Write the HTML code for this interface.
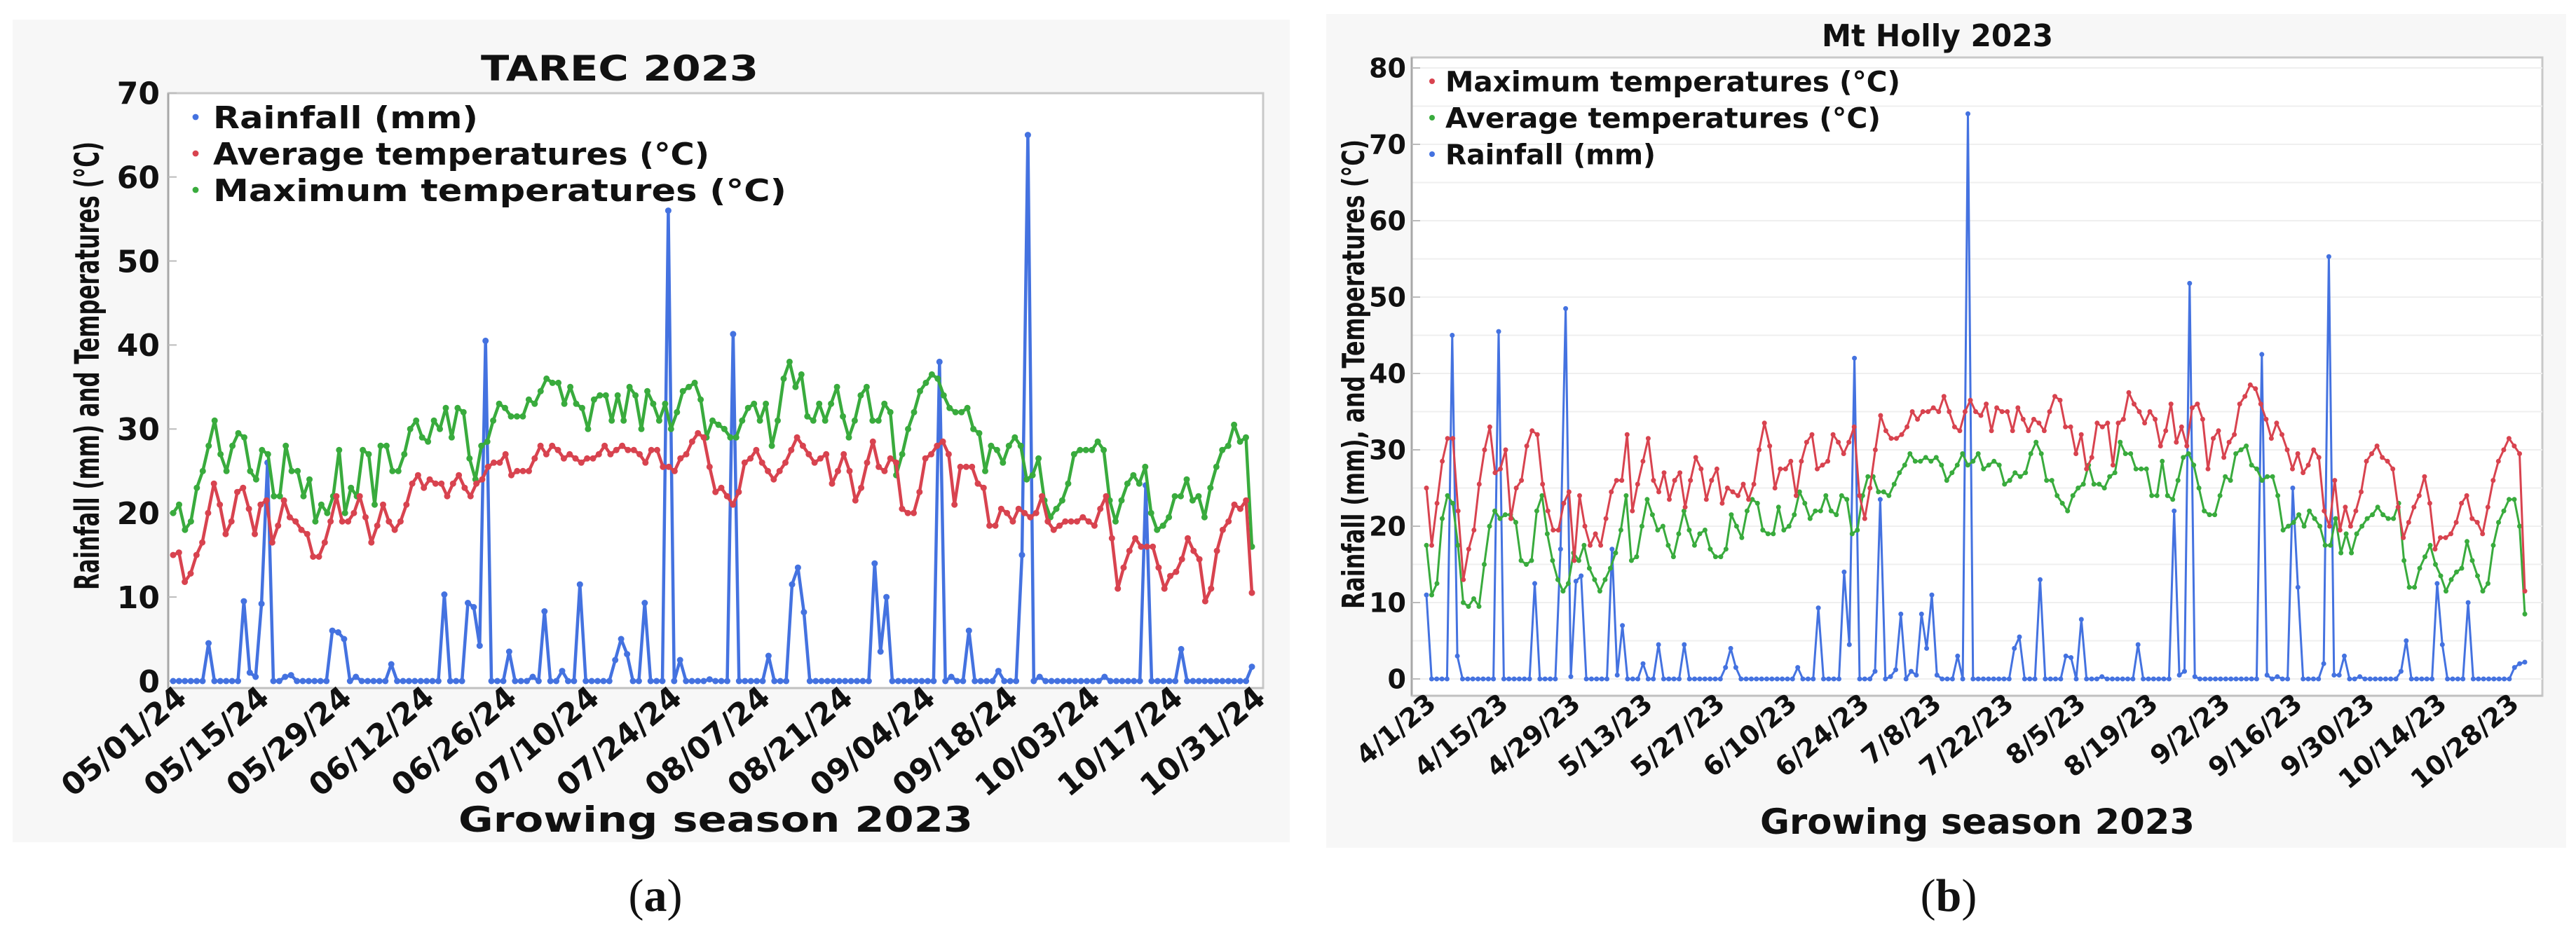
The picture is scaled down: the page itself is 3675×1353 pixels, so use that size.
<!DOCTYPE html>
<html><head><meta charset="utf-8"><style>
html,body{margin:0;padding:0;background:#fff;}
svg{display:block;}
text{font-family:"DejaVu Sans","Liberation Sans",sans-serif;font-weight:bold;fill:#111;}
</style></head><body>
<svg id="fig" width="3675" height="1353" viewBox="0 0 3675 1353" xmlns="http://www.w3.org/2000/svg"></svg>
<script>
// ---------- Chart A (TAREC) data ----------
const aXLabels=["05/01/24","05/15/24","05/29/24","06/12/24","06/26/24","07/10/24","07/24/24","08/07/24","08/21/24","09/04/24","09/18/24","10/03/24","10/17/24","10/31/24"];
const aYTicks=[0,10,20,30,40,50,60,70];
const aDays=184;
const aMax=[20,21,18,19,23,25,28,31,27,25,28,29.5,29,25,24,27.5,27,22,22,28,25,25,22,24,19,21,20,22,27.5,20,23,22,27.5,27,21,28,28,25,25,27,30,31,29,28.5,31,30,32.5,29,32.5,32,26.5,24,28,28.5,31,33,32.5,31.5,31.5,31.5,33.5,33,34.5,36,35.5,35.5,33,35,33,32.5,30,33.5,34,34,31,34,31,35,34,30,34.5,33,31,33,30,32,34.5,35,35.5,33.5,29,31,30.5,30,29,29,31,32.5,33,31,33,28,31,36,38,35,36.5,31.5,31,33,31,33,35,31.5,29,31,34,35,31,31,33,32,24.5,27,30,32,34.5,35.5,36.5,36,34,32.5,32,32,32.5,30,29.5,25,28,27.5,26,28,29,28,24,24.5,26.5,21.5,19.5,20.5,21.5,23.5,27,27.5,27.5,27.5,28.5,27.5,21.5,19,21.5,23.5,24.5,23.5,25.5,20,18,18.5,19.5,22,22,24,21.5,22,19.5,23,25.5,27.5,28,30.5,28.5,29,16];
const aAvg=[15,15.3,11.8,12.8,15,16.5,20,23.5,21,17.5,19,22.5,23,20.5,17.5,21,21.5,16.5,18.5,21.5,19.5,19,18,17.5,14.8,14.8,16.5,19,22,19,19,20,22,19.5,16.5,18.5,21,19,18,19,21,23.5,24.5,23,24,23.5,23.5,22,23.5,24.5,23,22,23.5,24,25.5,26,26,27,24.5,25,25,25,26.5,28,27,28,27.5,26.5,27,26.5,26,26.5,26.5,27,28,27,27.5,28,27.5,27.5,27,26,27.5,27.5,25.5,25.5,25,26.5,27,28.5,29.5,29,25.5,22.5,23,22,21,22.5,26,26.5,27.5,26,25,24,25,26,27.5,29,28,27,26,26.5,27,23.5,25,27,25,21.5,23,26,28.5,25.5,25,26.5,26,20.5,20,20,22.5,26.5,27,28,28.5,27,21,25.5,25.5,25.5,23.5,23,18.5,18.5,20.5,20,19,20.5,20,19.5,20,22,19,18,18.5,19,19,19,19.5,19,18.5,20.5,22,17,11,13.5,15.5,17,16,16,16,13.5,11,12.5,13,14.5,17,15.5,14.5,9.5,11,15.5,18,19,21,20.5,21.5,10.5];
const aRainDay=[6,12,13,14,15,16,19,20,27,28,29,31,37,46,50,51,52,53,57,61,63,66,69,75,76,77,80,84,86,91,95,101,105,106,107,119,120,121,130,132,135,140,144,145,147,158,165,171,183];
const aRainMm=[4.5,9.5,1,0.5,9.2,26,0.5,0.7,6,5.8,5,0.5,2,10.3,9.3,8.8,4.2,40.5,3.5,0.5,8.3,1.2,11.5,2.5,5,3.2,9.3,56,2.5,0.2,41.3,3,11.5,13.5,8.2,14,3.5,10,38,0.5,6,1.2,15,65,0.5,0.5,23.3,3.8,1.7];

// ---------- Chart B (Mt Holly) data ----------
const bXLabels=["4/1/23","4/15/23","4/29/23","5/13/23","5/27/23","6/10/23","6/24/23","7/8/23","7/22/23","8/5/23","8/19/23","9/2/23","9/16/23","9/30/23","10/14/23","10/28/23"];
const bYTicks=[0,10,20,30,40,50,60,70,80];
const bDays=214;
const bMax=[25,17.5,23,28.5,31.5,31.5,22,13,17,19.5,25.5,30,33,27,27.5,30,21,25,26,30.5,32.5,32,25.5,22,19.5,19.5,23,24.5,15.5,24,20,17.5,19,17.5,21,24.5,26,26,32,22,25.5,28.5,31.5,26,24.5,27,23.5,26,27,22.5,26,29,27.5,23.5,26,27.5,23,25,24.5,24,25.5,23.5,25.5,30,33.5,30.5,25,27.5,27.5,28.5,24,28.5,31,32,27.5,28,28.5,32,31,29.5,31,33,24,21,25,30,34.5,32.5,31.5,31.5,32,33,35,34,35,35,35.5,35,37,35,33,32.5,35,36.5,35,34.5,36,32.5,35.5,35,35,32.5,35.5,34,32.5,34,33.5,32.5,35,37,36.5,33,33,29.5,32,27.5,29,33.5,33,33.5,28,33.5,34,37.5,36,35,33.5,35,34,30.5,32.5,36,31,33,30.5,35.5,36,34,27.5,31.5,32.5,29,31,32,36,37,38.5,38,36,34,31.5,33.5,32,30,27.5,29.5,27,28,30,29,22,20,26,19.5,22.5,20,22,24.5,28.5,29.5,30.5,29,28.5,27.5,22.5,18.5,20.5,22.5,24,26.5,23,17,18.5,18.5,19,20.5,23,24,21,20.5,19,22.5,26,28.5,30,31.5,30.5,29.5,11.5];
const bAvg=[17.5,11,12.5,21,24,23,17.5,10,9.5,10.5,9.5,15,20,22,21,21.5,21.5,20.5,15.5,15,15.5,22,24,19,15.5,13,11.5,12.5,16.5,15.5,17.5,14.5,13,11.5,13,14.5,16.5,19.5,24,15.5,16,20,23.5,21.5,19.5,20,17.5,16,19,22,19.5,17.5,19,19.5,17,16,16,17,21.5,20,18.5,22,23.5,23,19.5,19,19,22.5,19.5,20,21.5,24.5,23,21,22,22,24,22,21.5,24,23.5,19,19.5,24,26.5,26.5,24.5,24.5,24,25.5,27,28,29.5,28.5,28.5,29,28.5,29,28,26,27,28,29.5,28,28.5,29.5,27.5,28,28.5,28,25.5,26,27,26.5,27,29.5,31,29.5,26,26,24,23,22,24,25,25.5,28,25.5,25.5,25,26.5,27,31,29.5,29.5,27.5,27.5,27.5,24,24,28.5,24,23.5,26,29,29.5,28,25,22,21.5,21.5,24,26.5,26,29.5,30,30.5,28,27.5,26,26.5,26.5,24,19.5,20,20.5,21.5,20,22,21,20,17.5,17.5,21,16.5,19,16.5,19,20,21,21.5,22.5,21.5,21,21,23,15.5,12,12,14.5,16,17.5,15,13.5,11.5,13,14,14.5,18,15.5,13.5,11.5,12.5,17.5,20.5,22,23.5,23.5,20,8.5];
const bRainDay=[0,5,6,14,21,26,27,28,29,30,36,37,38,42,45,50,58,59,60,72,76,81,82,83,87,88,90,91,92,94,95,96,97,98,99,103,105,114,115,119,124,125,127,131,138,145,146,147,148,149,162,163,165,168,169,174,175,176,177,178,181,189,190,196,197,202,211,212,213];
const bRainMm=[11,45,3,45.5,12.5,17,48.5,0.3,12.8,13.5,17,0.5,7,2,4.5,4.5,1.5,4,1.5,1.5,9.3,14,4.5,42,1,23.5,0.3,1.2,8.5,1,0.5,8.5,4,11,0.5,3,74,4,5.5,13,3,2.8,7.8,0.3,4.5,22,0.5,1,51.8,0.3,42.5,0.5,0.3,25,12,2,55.3,0.5,0.5,3,0.3,1,5,12.5,4.5,10,1.5,2,2.2];

const NS="http://www.w3.org/2000/svg";
const svg=document.getElementById('fig');
function mk(tag,attrs,parent){const e=document.createElementNS(NS,tag);for(const k in attrs)e.setAttribute(k,attrs[k]);(parent||svg).appendChild(e);return e;}
function txt(str,attrs,parent){const e=mk('text',attrs,parent);e.textContent=str;return e;}

function dense(n,days,vals){const a=new Array(n).fill(0);days.forEach((d,i)=>{if(d<n)a[d]=vals[i];});return a;}

function drawChart(cfg){
  const g=mk('g',{});
  
  
  const bg=mk('rect',{x:cfg.panel[0],y:cfg.panel[1],width:cfg.panel[2]-cfg.panel[0],height:cfg.panel[3]-cfg.panel[1],fill:'#f7f7f7'},g);
  
  
  const P=cfg.plot;
  const pr=mk('rect',{x:P.l,y:P.t,width:P.r-P.l,height:P.b-P.t,fill:'#fff',stroke:'#c8c8c8','stroke-width':3},g);
  
  
  const ys=v=>cfg.y0-(v/10)*cfg.yPer10;
  const xs=d=>cfg.x0+d*(cfg.x1-cfg.x0)/(cfg.days-1);
  if(cfg.grid){for(let v=0;v<=cfg.yTicks[cfg.yTicks.length-1];v+=5){const l=mk('line',{x1:P.l,x2:P.r,y1:ys(v),y2:ys(v),stroke:'#efefef','stroke-width':2},g);}}
  mk('line',{x1:P.l,x2:P.l,y1:P.t,y2:P.b,stroke:'#a8a8a8','stroke-width':3},g);
  mk('line',{x1:P.l,x2:P.r,y1:P.b,y2:P.b,stroke:'#c0c0c0','stroke-width':3},g);
  cfg.yTicks.forEach(v=>{
    const t=mk('line',{x1:P.l,x2:P.l+12,y1:ys(v),y2:ys(v),stroke:'#bbb','stroke-width':2},g);
    
    const lb=txt(String(v),{x:cfg.yLabX,y:ys(v)+cfg.yFont*0.36,'text-anchor':'end','font-size':cfg.yFont},g);
    
  });
  cfg.xLabels.forEach((s,i)=>{
    const d=cfg.tickDays[i];
    const x=xs(d)+cfg.xLabDx, y=cfg.xLabY;
    const lb=txt(s,{x:x,y:y,'text-anchor':'end','font-size':cfg.xFont,transform:`rotate(-40 ${x} ${y})`},g);
    
  });
  cfg.series.forEach(s=>{
    const sg=mk('g',{},g);
    
    
    const n=s.vals.length;
    const pts=s.vals.map((v,i)=>[cfg.x0+i*(cfg.x1-cfg.x0)/(n-1),ys(v)]);
    mk('polyline',{points:pts.map(p=>p[0].toFixed(1)+','+p[1].toFixed(1)).join(' '),fill:'none',stroke:s.color,'stroke-width':cfg.lw,'stroke-linejoin':'round'},sg);
    pts.forEach(p=>{const c=mk('circle',{cx:p[0].toFixed(1),cy:p[1].toFixed(1),r:cfg.mr,fill:s.color},sg);});
  });
  cfg.legend.forEach((L,i)=>{
    const y=cfg.legY+i*cfg.legDy;
    const lg=mk('g',{},g);
    
    
    mk('circle',{cx:cfg.legMX,cy:y,r:cfg.legFont*0.1,fill:L.color},lg);
    txt(L.label,{x:cfg.legTX,y:y+cfg.legFont*0.36,'font-size':cfg.legFont,textLength:L.w,lengthAdjust:'spacingAndGlyphs'},lg);
  });
  const ti=txt(cfg.title,{x:cfg.titleX,y:cfg.titleY,'text-anchor':'middle','font-size':cfg.titleFont,textLength:cfg.titleW,lengthAdjust:'spacingAndGlyphs'},g);
  
  const yt=txt(cfg.yTitle,{x:0,y:0,'text-anchor':'middle','font-size':cfg.yTitleFont,textLength:cfg.yTitleW,lengthAdjust:'spacingAndGlyphs',transform:`translate(${cfg.yTitleX} ${cfg.yTitleY}) rotate(-90)`},g);
  
  const xt=txt('Growing season 2023',{x:cfg.xTitleX,y:cfg.xTitleY,'text-anchor':'middle','font-size':cfg.xTitleFont,textLength:cfg.xTitleW,lengthAdjust:'spacingAndGlyphs'},g);
  
  const cap=mk('text',{x:cfg.capX,y:1300,'text-anchor':'middle','font-size':66,style:'font-family:"Liberation Serif",serif;font-weight:normal'},g);
  cap.textContent='(';const ts=mk('tspan',{style:'font-weight:bold'},cap);ts.textContent=cfg.cap;cap.appendChild(document.createTextNode(')'));
  
}

const blue='#4472e0', red='#d8434f', green='#39ab3d';
drawChart({name:'chart-tarec',panel:[18,28,1840,1202],plot:{l:240,t:133,r:1802,b:982},
  y0:972,yPer10:119.9,x0:247,x1:1786,days:aDays,grid:false,lw:4.5,mr:4.5,
  yTicks:aYTicks,yLabX:228,yFont:44,xLabels:aXLabels,tickDays:aXLabels.map((s,i)=>Math.round(i*(aDays-1)/(aXLabels.length-1))),xLabDx:22,xLabY:1000,xFont:44,
  series:[{name:'rainfall-series',color:blue,vals:dense(aDays,aRainDay,aRainMm)},{name:'max-temp-series',color:green,vals:aMax},{name:'avg-temp-series',color:red,vals:aAvg}],
  legend:[{label:'Rainfall (mm)',color:blue,w:378},{label:'Average temperatures (°C)',color:red,w:708},{label:'Maximum temperatures (°C)',color:green,w:818}],
  legY:167,legDy:52,legMX:279,legTX:304,legFont:44,
  title:'TAREC 2023',titleX:884,titleY:115,titleFont:50,titleW:396,
  yTitle:'Rainfall (mm) and Temperatures (°C)',yTitleX:141,yTitleY:522,yTitleFont:48,yTitleW:640,
  xTitleX:1021,xTitleY:1187,xTitleFont:50,xTitleW:734,capX:935,cap:'a'});
drawChart({name:'chart-mt-holly',panel:[1892,20,3661,1210],plot:{l:2014,t:82,r:3627,b:993},
  y0:969,yPer10:109,x0:2035,x1:3602,days:bDays,grid:true,lw:3,mr:3.5,
  yTicks:bYTicks,yLabX:2006,yFont:38,xLabels:bXLabels,tickDays:bXLabels.map((s,i)=>i*14),xLabDx:16,xLabY:1008,xFont:38,
  series:[{name:'rainfall-series',color:blue,vals:dense(bDays,bRainDay,bRainMm)},{name:'avg-temp-series',color:green,vals:bAvg},{name:'max-temp-series',color:red,vals:bMax}],
  legend:[{label:'Maximum temperatures (°C)',color:red,w:649},{label:'Average temperatures (°C)',color:green,w:621},{label:'Rainfall (mm)',color:blue,w:300}],
  legY:116,legDy:52,legMX:2043,legTX:2062,legFont:40,
  title:'Mt Holly 2023',titleX:2764,titleY:66,titleFont:44,titleW:330,
  yTitle:'Rainfall (mm), and Temperatures (°C)',yTitleX:1946,yTitleY:534,yTitleFont:44,yTitleW:670,
  xTitleX:2821,xTitleY:1190,xTitleFont:50,xTitleW:620,capX:2780,cap:'b'});
</script>
</body></html>
